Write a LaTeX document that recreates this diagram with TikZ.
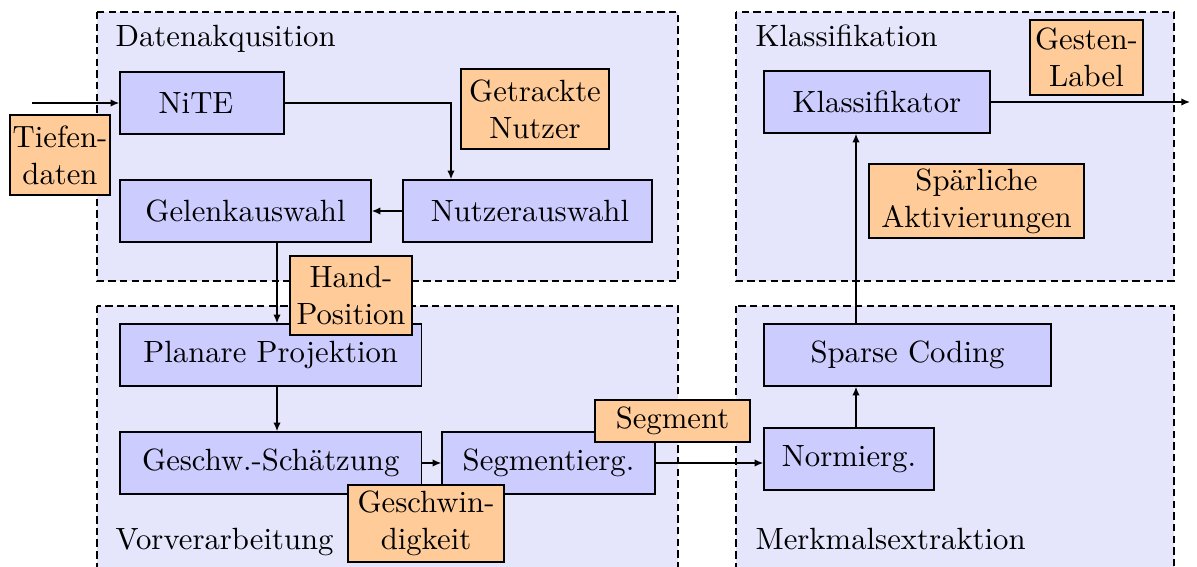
\documentclass[tikz,border=0pt]{standalone}
\usepackage{fontspec}
\usetikzlibrary{arrows.meta}
\newcommand\pxu{0.3255pt}
\definecolor{grpfill}{RGB}{229,229,252}
\definecolor{procfill}{RGB}{204,204,255}
\definecolor{datafill}{RGB}{255,204,153}
\tikzset{
  grp/.style={draw=black, fill=grpfill, line width=0.6pt, dash pattern=on 2.4pt off 1.4pt},
  grplabel/.style={anchor=base west, inner sep=0pt},
  proc/.style={draw=black, fill=procfill, line width=0.5pt, inner sep=0pt, align=center},
  datab/.style={draw=black, fill=datafill, line width=0.5pt, inner sep=0pt, align=center},
  arr/.style={line width=0.45pt, -{Latex[length=2.8pt,width=2.4pt]}},
}
\begin{document}
\begin{tikzpicture}[x=\pxu, y=-\pxu]
\clip (0,0) rectangle (1197,567);
\fill[white] (0,0) rectangle (1197,567);
% groups
\draw[grp] (97,12) rectangle (678,281);
\draw[grp] (736,12) rectangle (1174,281);
\draw[grp] (97,306) rectangle (678,620);
\draw[grp] (736,306) rectangle (1174,620);
\node[grplabel] (gl1) at (115,46) {Datenakqusition};
\node[grplabel] (gl2) at (755,46) {Klassifikation};
\node[grplabel] (gl3) at (115,549) {Vorverarbeitung};
\node[grplabel] (gl4) at (755,549) {Merkmalsextraktion};
% process nodes
\node[proc, minimum width=164*\pxu, minimum height=62*\pxu] (nite) at (202,103) {NiTE\hspace*{3.9pt}};
\node[proc, minimum width=251*\pxu, minimum height=62*\pxu] (gelenk) at (245.5,211) {Gelenkauswahl};
\node[proc, minimum width=249*\pxu, minimum height=62*\pxu] (nutzer) at (527.5,211) {\hspace*{1.6pt}Nutzerauswahl};
\node[proc, minimum width=301.5*\pxu, minimum height=62*\pxu] (planar) at (270.75,355) {Planare Projektion};
\node[proc, minimum width=301.5*\pxu, minimum height=62*\pxu] (geschw) at (270.75,463) {Geschw.-Schätzung};
\node[proc, minimum width=213*\pxu, minimum height=62*\pxu] (segm) at (548.5,463) {Segmentierg.};
\node[proc, minimum width=170*\pxu, minimum height=62*\pxu] (norm) at (849,459) {Normierg.};
\node[proc, minimum width=287*\pxu, minimum height=62*\pxu] (sparse) at (907.5,355) {Sparse Coding};
\node[proc, minimum width=226*\pxu, minimum height=62*\pxu] (klass) at (877,102) {Klassifikator};
% helper coordinates
\coordinate (in) at (32,103);
\coordinate (k1) at (451,103);
\coordinate (k2) at (277,0);
\coordinate (k3) at (856,0);
\coordinate (out) at (1190,102);
% connectors
\draw[arr] (in) -- (nite.west);
\draw[arr] (nite.east |- k1) -- (k1) -- (k1 |- nutzer.north);
\draw[arr] (nutzer.west) -- (gelenk.east);
\draw[arr] (gelenk.south -| k2) -- (planar.north -| k2);
\draw[arr] (planar.south -| k2) -- (geschw.north -| k2);
\draw[arr] (geschw.east) -- (segm.west);
\draw[arr] (segm.east) -- (segm.east -| norm.west);
\draw[arr] (norm.north -| k3) -- (sparse.south -| k3);
\draw[arr] (sparse.north -| k3) -- (klass.south -| k3);
\draw[arr] (klass.east) -- (out);
% data nodes
\node[datab, minimum width=100*\pxu, minimum height=80*\pxu] (tiefen) at (60,155) {Tiefen-\\daten};
\node[datab, minimum width=148*\pxu, minimum height=80*\pxu] (getr) at (535,109) {Getrackte\\Nutzer};
\node[datab, minimum width=122*\pxu, minimum height=79*\pxu] (hand) at (351,295.5) {Hand-\\Position};
\node[datab, minimum width=156*\pxu, minimum height=77*\pxu] (gschwd) at (426,523.5) {Geschwin-\\digkeit};
\node[datab, minimum width=155*\pxu, minimum height=42*\pxu] (segment) at (672.5,421) {Segment};
\node[datab, minimum width=113*\pxu, minimum height=75*\pxu] (gesten) at (1086.5,57.5) {Gesten-\\Label};
\node[datab, minimum width=215*\pxu, minimum height=74*\pxu] (spaer) at (976.5,201) {Spärliche\\Aktivierungen};
\end{tikzpicture}
\end{document}
